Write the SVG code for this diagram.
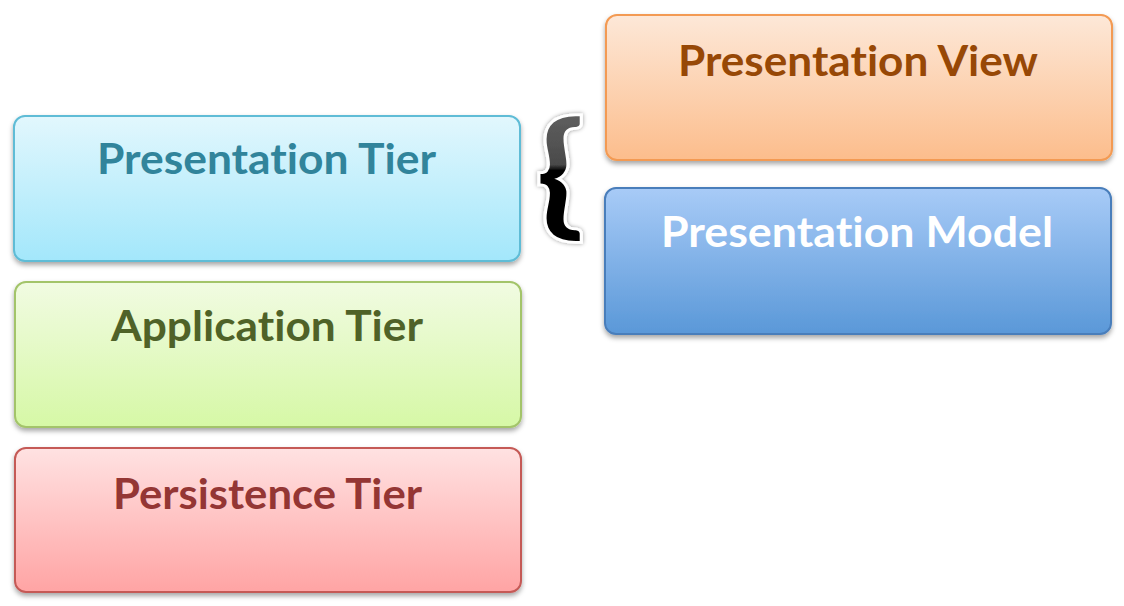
<svg xmlns="http://www.w3.org/2000/svg" width="1124" height="606" viewBox="0 0 1124 606">
<defs>
<linearGradient id="gBlue" x1="0" y1="0" x2="0" y2="1"><stop offset="0" stop-color="#e2f7fd"/><stop offset="1" stop-color="#a3e7fb"/></linearGradient>
<linearGradient id="gGreen" x1="0" y1="0" x2="0" y2="1"><stop offset="0" stop-color="#f1fbe2"/><stop offset="1" stop-color="#d6f8a6"/></linearGradient>
<linearGradient id="gRed" x1="0" y1="0" x2="0" y2="1"><stop offset="0" stop-color="#ffe2e2"/><stop offset="1" stop-color="#ffa4a4"/></linearGradient>
<linearGradient id="gOrange" x1="0" y1="0" x2="0" y2="1"><stop offset="0" stop-color="#fde8d8"/><stop offset="1" stop-color="#fcbd8c"/></linearGradient>
<linearGradient id="gModel" x1="0" y1="0" x2="0" y2="1"><stop offset="0" stop-color="#a8cbf7"/><stop offset="1" stop-color="#5a98d8"/></linearGradient>
<linearGradient id="gBrace" x1="0" y1="0" x2="0" y2="1"><stop offset="0" stop-color="#6a6a6a"/><stop offset="0.48" stop-color="#4a4a4a"/><stop offset="0.52" stop-color="#000"/><stop offset="1" stop-color="#000"/></linearGradient>
<filter id="shadow" x="-5%" y="-10%" width="110%" height="130%"><feDropShadow dx="0" dy="3" stdDeviation="2.5" flood-color="#000" flood-opacity="0.35"/></filter>
<filter id="glow" x="-30%" y="-20%" width="160%" height="140%"><feDropShadow dx="0" dy="0" stdDeviation="2" flood-color="#000" flood-opacity="0.4"/></filter>
</defs>
<style>
.box{stroke-width:2}
.lbl{font-family:Lato,"Open Sans","Liberation Sans",sans-serif;font-weight:bold;font-size:42px;text-anchor:middle;font-variant-ligatures:none}
</style>
<rect width="1124" height="606" fill="#fff"/>
<g id="presentation-tier">
<rect class="box" x="14" y="116" width="506" height="145" rx="11" fill="url(#gBlue)" stroke="#5fbcd6" filter="url(#shadow)"/>
<text class="lbl" x="266.5" y="174" fill="#31849b" textLength="339" lengthAdjust="spacingAndGlyphs">Presentation Tier</text>
</g>
<g id="application-tier">
<rect class="box" x="15" y="282" width="506" height="145" rx="11" fill="url(#gGreen)" stroke="#a3c46a" filter="url(#shadow)"/>
<text class="lbl" x="267" y="341" fill="#4f6228" textLength="312" lengthAdjust="spacingAndGlyphs">Application Tier</text>
</g>
<g id="persistence-tier">
<rect class="box" x="15" y="448" width="506" height="144" rx="11" fill="url(#gRed)" stroke="#c55a57" filter="url(#shadow)"/>
<text class="lbl" x="267.5" y="509" fill="#943634" textLength="309" lengthAdjust="spacingAndGlyphs">Persistence Tier</text>
</g>
<g id="presentation-view">
<rect class="box" x="606" y="15" width="506" height="145" rx="11" fill="url(#gOrange)" stroke="#f39a52" filter="url(#shadow)"/>
<text class="lbl" x="858" y="76" fill="#974806" textLength="360" lengthAdjust="spacingAndGlyphs">Presentation View</text>
</g>
<g id="presentation-model">
<rect class="box" x="605" y="188" width="506" height="146" rx="11" fill="url(#gModel)" stroke="#4a7ebb" filter="url(#shadow)"/>
<text class="lbl" x="857" y="247" fill="#ffffff" textLength="392" lengthAdjust="spacingAndGlyphs">Presentation Model</text>
</g>
<g id="connectors">
<g id="brace" filter="url(#glow)">
<text x="560" y="225" font-family="Lato,'Liberation Sans',sans-serif" font-weight="bold" font-size="150" text-anchor="middle" fill="url(#gBrace)" stroke="#fff" stroke-width="6" paint-order="stroke" transform="translate(560 177) scale(1.05 0.9) translate(-560 -177)">{</text>
</g>
</g>
</svg>
